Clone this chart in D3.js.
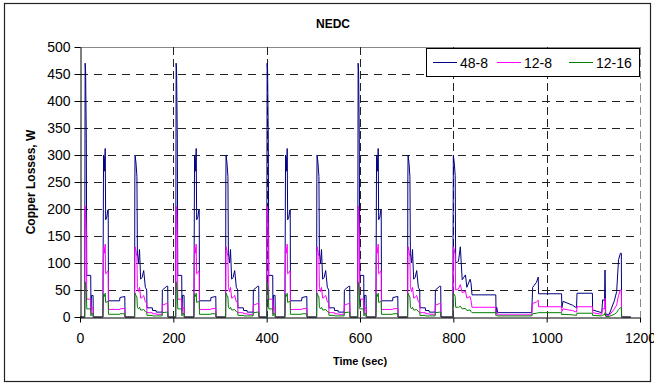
<!DOCTYPE html>
<html>
<head>
<meta charset="utf-8">
<script src="https://cdn.jsdelivr.net/npm/d3@7"></script>
<style>
  body { margin: 0; background: #fff; }
  svg text { font-family: Arial, "Liberation Sans", sans-serif; fill: #000; }
</style>
</head>
<body>
<svg width="654" height="385"></svg>
<script>
// time (s) of each breakpoint, NEDC: 4 urban ECE cycles + EUDC
const time = [
  0, 10, 11, 12, 13.5, 14.5, 23, 23.5, 24.5, 28, 28.5, 49, 49.5, 50.5, 52, 53, 54, 55, 57.5, 59.5, 60.5, 61, 85, 85.5, 96, 96.5, 117, 117.5, 118, 120, 122, 123, 125.5, 127.5, 130, 133, 136.5, 140, 143, 143.5, 155, 155.5, 163, 163.5, 176, 176.5, 186, 188, 188.5,
  195, 205, 206, 207, 208.5, 209.5, 218, 218.5, 219.5, 223, 223.5, 244, 244.5, 245.5, 247, 248, 249, 250, 252.5, 254.5, 255.5, 256, 280, 280.5, 291, 291.5, 312, 312.5, 313, 315, 317, 318, 320.5, 322.5, 325, 328, 331.5, 335, 338, 338.5, 350, 350.5, 358, 358.5, 371, 371.5, 381, 383, 383.5,
  390, 400, 401, 402, 403.5, 404.5, 413, 413.5, 414.5, 418, 418.5, 439, 439.5, 440.5, 442, 443, 444, 445, 447.5, 449.5, 450.5, 451, 475, 475.5, 486, 486.5, 507, 507.5, 508, 510, 512, 513, 515.5, 517.5, 520, 523, 526.5, 530, 533, 533.5, 545, 545.5, 553, 553.5, 566, 566.5, 576, 578, 578.5,
  585, 595, 596, 597, 598.5, 599.5, 608, 608.5, 609.5, 613, 613.5, 634, 634.5, 635.5, 637, 638, 639, 640, 642.5, 644.5, 645.5, 646, 670, 670.5, 681, 681.5, 702, 702.5, 703, 705, 707, 708, 710.5, 712.5, 715, 718, 721.5, 725, 728, 728.5, 740, 740.5, 748, 748.5, 761, 761.5, 771, 773, 773.5,
  799, 800, 802, 804, 805, 811, 815, 819, 826, 829, 836, 838, 840, 891, 891.5, 893, 895, 968, 970, 978, 982, 982.5, 1032, 1032.5, 1035, 1055, 1064, 1065, 1098, 1098.5, 1118, 1120, 1124, 1125, 1126.5, 1134, 1145, 1150, 1154, 1158, 1160, 1160.5, 1180
];

const loss48_8 = [
  0, 0, 470, 455, 330, 77, 77, 12, 40, 40, 0, 0, 100, 300, 295, 270, 312, 180, 185, 198, 198, 30, 30, 36, 38, 0, 0, 250, 300, 285, 260, 118, 100, 125, 70, 73, 86, 55, 50, 17, 17, 12, 12, 9, 9, 50, 57, 57, 0,
  0, 0, 470, 455, 330, 77, 77, 12, 40, 40, 0, 0, 100, 300, 295, 270, 312, 180, 185, 198, 198, 30, 30, 36, 38, 0, 0, 250, 300, 285, 260, 118, 100, 125, 70, 73, 86, 55, 50, 17, 17, 12, 12, 9, 9, 50, 57, 57, 0,
  0, 0, 470, 455, 330, 77, 77, 12, 40, 40, 0, 0, 100, 300, 295, 270, 312, 180, 185, 198, 198, 30, 30, 36, 38, 0, 0, 250, 300, 285, 260, 118, 100, 125, 70, 73, 86, 55, 50, 17, 17, 12, 12, 9, 9, 50, 57, 57, 0,
  0, 0, 470, 455, 330, 77, 77, 12, 40, 40, 0, 0, 100, 300, 295, 270, 312, 180, 185, 198, 198, 30, 30, 36, 38, 0, 0, 250, 300, 285, 260, 118, 100, 125, 70, 73, 86, 55, 50, 17, 17, 12, 12, 9, 9, 50, 57, 57, 0,
  0, 300, 285, 262, 100, 103, 130, 69, 78, 55, 70, 62, 41, 41, 8, 18, 8, 8, 55, 64, 74, 43, 43, 17, 29, 22, 17, 44, 44, 13, 8, 32, 30, 87, 5, 5, 30, 47, 106, 118, 118, 0, 0
];

const loss12_8 = [
  0, 0, 205, 198, 150, 33, 33, 6, 17, 17, 0, 0, 45, 130, 128, 118, 135, 80, 82, 85, 85, 14, 14, 15, 16, 0, 0, 110, 130, 122, 112, 55, 47, 55, 35, 36, 40, 28, 26, 8, 8, 6, 6, 5, 5, 22, 25, 25, 0,
  0, 0, 205, 198, 150, 33, 33, 6, 17, 17, 0, 0, 45, 130, 128, 118, 135, 80, 82, 85, 85, 14, 14, 15, 16, 0, 0, 110, 130, 122, 112, 55, 47, 55, 35, 36, 40, 28, 26, 8, 8, 6, 6, 5, 5, 22, 25, 25, 0,
  0, 0, 205, 198, 150, 33, 33, 6, 17, 17, 0, 0, 45, 130, 128, 118, 135, 80, 82, 85, 85, 14, 14, 15, 16, 0, 0, 110, 130, 122, 112, 55, 47, 55, 35, 36, 40, 28, 26, 8, 8, 6, 6, 5, 5, 22, 25, 25, 0,
  0, 0, 205, 198, 150, 33, 33, 6, 17, 17, 0, 0, 45, 130, 128, 118, 135, 80, 82, 85, 85, 14, 14, 15, 16, 0, 0, 110, 130, 122, 112, 55, 47, 55, 35, 36, 40, 28, 26, 8, 8, 6, 6, 5, 5, 22, 25, 25, 0,
  0, 130, 125, 115, 50, 52, 60, 45, 48, 35, 38, 30, 18, 18, 5, 8, 4, 4, 25, 28, 31, 19, 19, 10, 15, 12, 9, 19, 19, 8, 5, 16, 15, 35, 3, 3, 15, 22, 40, 50, 50, 0, 0
];

const loss12_16 = [
  0, 0, 65, 60, 45, 15, 15, 2, 6, 6, 0, 0, 15, 42, 41, 38, 44, 27, 28, 29, 29, 5, 5, 6, 6, 0, 0, 37, 44, 40, 37, 18, 15, 18, 13, 13, 14, 10, 9, 3, 3, 2, 2, 2, 2, 8, 9, 9, 0,
  0, 0, 65, 60, 45, 15, 15, 2, 6, 6, 0, 0, 15, 42, 41, 38, 44, 27, 28, 29, 29, 5, 5, 6, 6, 0, 0, 37, 44, 40, 37, 18, 15, 18, 13, 13, 14, 10, 9, 3, 3, 2, 2, 2, 2, 8, 9, 9, 0,
  0, 0, 65, 60, 45, 15, 15, 2, 6, 6, 0, 0, 15, 42, 41, 38, 44, 27, 28, 29, 29, 5, 5, 6, 6, 0, 0, 37, 44, 40, 37, 18, 15, 18, 13, 13, 14, 10, 9, 3, 3, 2, 2, 2, 2, 8, 9, 9, 0,
  0, 0, 65, 60, 45, 15, 15, 2, 6, 6, 0, 0, 15, 42, 41, 38, 44, 27, 28, 29, 29, 5, 5, 6, 6, 0, 0, 37, 44, 40, 37, 18, 15, 18, 13, 13, 14, 10, 9, 3, 3, 2, 2, 2, 2, 8, 9, 9, 0,
  0, 44, 42, 38, 18, 18, 20, 15, 16, 12, 13, 10, 8, 8, 2, 3, 2, 2, 6, 7, 8, 8, 8, 4, 5, 4, 3, 7, 7, 3, 2, 4, 4, 8, 1, 1, 5, 8, 14, 17, 17, 0, 0
];

const seriesNames = ['48-8', '12-8', '12-16'];
const seriesColors = ['#000080', '#ff00ff', '#008000'];
const xTicks = [0, 200, 400, 600, 800, 1000, 1200];
const yTicks = [0, 50, 100, 150, 200, 250, 300, 350, 400, 450, 500];

const svg = d3.select('svg');

const x = d3.scaleLinear().domain([0, 1200]).range([80, 640]);
const y = d3.scaleLinear().domain([0, 500]).range([317, 47]);

// outer frame
svg.append('rect')
    .attr('x', 4.5).attr('y', 3.5)
    .attr('width', 646).attr('height', 378)
    .attr('fill', 'none')
    .attr('stroke', '#222')
    .attr('stroke-width', 1.2);

svg.append('text')
    .attr('x', 333).attr('y', 28)
    .attr('text-anchor', 'middle')
    .style('font-size', '12px')
    .style('font-weight', 'bold')
    .text('NEDC');

// grid
const grid = svg.append('g');
grid.selectAll('line.h')
    .data(yTicks.filter(d => d > 0 && d < 500))
    .enter().append('line')
    .attr('class', 'h')
    .attr('x1', x(0)).attr('x2', x(1200))
    .attr('y1', d => Math.round(y(d)) + 0.5).attr('y2', d => Math.round(y(d)) + 0.5)
    .attr('stroke', '#222')
    .attr('stroke-dasharray', '8,6');

grid.append('line')
    .attr('x1', x(0)).attr('x2', x(1200))
    .attr('y1', y(500) + 0.5).attr('y2', y(500) + 0.5)
    .attr('stroke', '#888');

grid.selectAll('line.v')
    .data(xTicks.filter(d => d > 0))
    .enter().append('line')
    .attr('class', 'v')
    .attr('x1', d => Math.round(x(d)) + 0.5).attr('x2', d => Math.round(x(d)) + 0.5)
    .attr('y1', y(500)).attr('y2', y(0))
    .attr('stroke', d => d === 1200 ? '#888' : '#222')
    .attr('stroke-dasharray', '8,4');

// series
const series = [loss48_8, loss12_8, loss12_16];
const line = d3.line()
    .x((d, i) => x(time[i]))
    .y(d => y(d));

svg.append('g').selectAll('path')
    .data(series)
    .enter().append('path')
    .attr('d', line)
    .attr('fill', 'none')
    .attr('stroke', (d, i) => seriesColors[i])
    .attr('stroke-width', 1)
    .attr('stroke-linejoin', 'round');

// axes
const yAxis = svg.append('g')
    .attr('transform', 'translate(80.5,0)')
    .call(d3.axisLeft(y).tickValues(yTicks).tickSize(6).tickSizeOuter(0).tickPadding(4));
const xAxis = svg.append('g')
    .attr('transform', 'translate(0,' + (y(0) + 0.5) + ')')
    .call(d3.axisBottom(x).tickValues(xTicks).tickFormat(d3.format('d'))
        .tickSize(5).tickSizeOuter(0).tickPadding(11));

[yAxis, xAxis].forEach(a => {
    a.selectAll('path, line').attr('stroke', '#000');
    a.selectAll('text').style('font-size', '14px').attr('fill', '#000');
});

svg.append('text')
    .attr('x', x(600)).attr('y', 365)
    .attr('text-anchor', 'middle')
    .style('font-size', '11px')
    .style('font-weight', 'bold')
    .text('Time (sec)');

svg.append('text')
    .attr('transform', 'translate(35,' + y(250) + ') rotate(-90)')
    .attr('text-anchor', 'middle')
    .style('font-size', '12px')
    .style('font-weight', 'bold')
    .text('Copper Losses, W');

// legend
const legend = svg.append('g');
legend.append('rect')
    .attr('x', 426.5).attr('y', 48.5)
    .attr('width', 213).attr('height', 28)
    .attr('fill', '#fff')
    .attr('stroke', '#000');

const legendX = [433, 497, 569];
const item = legend.selectAll('g.item')
    .data(seriesNames)
    .enter().append('g')
    .attr('class', 'item')
    .attr('transform', (d, i) => 'translate(' + legendX[i] + ',62.5)');
item.append('line')
    .attr('x1', 0).attr('x2', 24)
    .attr('stroke', (d, i) => seriesColors[i]);
item.append('text')
    .attr('x', 27).attr('y', 5)
    .style('font-size', '14px')
    .text(d => d);
</script>
</body>
</html>
